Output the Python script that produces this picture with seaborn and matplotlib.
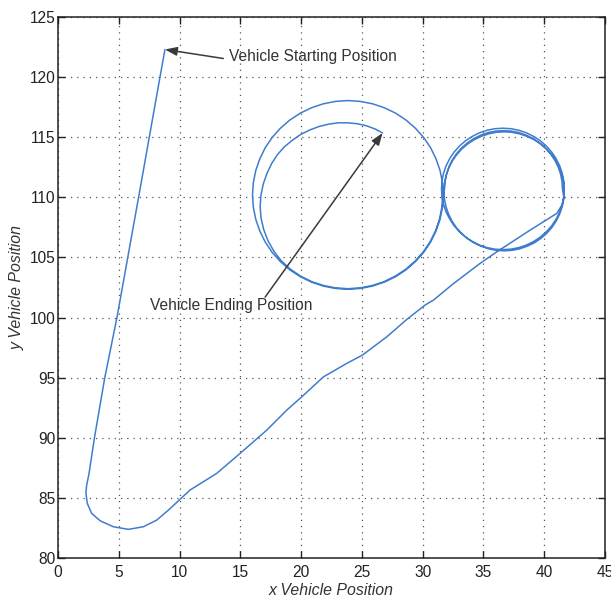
import numpy as np
import pandas as pd
import matplotlib
matplotlib.use("Agg")
import matplotlib.pyplot as plt
import seaborn as sns

# ---- vehicle trajectory, in driving order ----
# leg from the starting point down, around the bend and up to the right-hand circle
approach_x = [8.8, 8.39, 7.51, 6.63, 5.74, 4.85, 3.85, 3.0, 2.55, 2.35, 2.3, 2.41, 2.77, 3.46,
              4.55, 5.79, 7.02, 8.12, 9.08, 10.04, 10.86, 13.06, 14.98, 17.18, 18.82, 20.06,
              21.84, 23.76, 25.05, 27.05, 28.7, 30.2, 30.9, 32.5, 34.73, 36.1, 38.85, 41.04]
approach_y = [122.3, 120.0, 115.0, 110.0, 105.0, 100.0, 95.0, 90.0, 87.0, 86.0, 85.4, 84.54,
              83.71, 83.1, 82.6, 82.38, 82.6, 83.15, 83.98, 84.88, 85.65, 87.04, 88.7, 90.64,
              92.3, 93.41, 95.07, 96.19, 96.88, 98.4, 99.85, 101.04, 101.46, 102.8, 104.51,
              105.47, 107.28, 108.67]

# first pass around the right circle (counter-clockwise, one and a half turns)
right1_x = [41.48, 41.61, 41.65, 41.61, 41.48, 41.27, 40.97, 40.61, 40.17, 39.67, 39.13,
            38.53, 37.91, 37.26, 36.6, 35.94, 35.29, 34.67, 34.08, 33.53, 33.03, 32.59,
            32.23, 31.93, 31.72, 31.59, 31.55, 31.59, 31.72, 31.93, 32.23, 32.59, 33.03,
            33.53, 34.08, 34.67, 35.29, 35.94, 36.6, 37.26, 37.91, 38.53, 39.13, 39.67,
            40.17, 40.61, 40.97, 41.27, 41.48, 41.61,
            41.5, 41.46, 41.34, 41.13, 40.85, 40.5, 40.08, 39.6, 39.08, 38.51, 37.91, 37.28,
            36.65, 36.02, 35.39, 34.79, 34.23, 33.7, 33.22, 32.8, 32.45, 32.17, 31.97,
            31.84, 31.8]
right1_y = [109.39, 110.04, 110.7, 111.36, 112.01, 112.63, 113.23, 113.77, 114.27, 114.71,
            115.07, 115.37, 115.58, 115.71, 115.75, 115.71, 115.58, 115.37, 115.07, 114.71,
            114.27, 113.77, 113.23, 112.63, 112.01, 111.36, 110.7, 110.04, 109.39, 108.77,
            108.18, 107.63, 107.13, 106.69, 106.33, 106.03, 105.82, 105.69, 105.65, 105.69,
            105.82, 106.03, 106.33, 106.69, 107.13, 107.63, 108.18, 108.77, 109.39, 110.04,
            110.7, 111.33, 111.96, 112.56, 113.13, 113.65, 114.13, 114.55, 114.9, 115.18,
            115.39, 115.51, 115.55, 115.51, 115.39, 115.18, 114.9, 114.55, 114.13, 113.65,
            113.13, 112.56, 111.96, 111.33, 110.7]

# first full turn around the left circle (clockwise)
left1_x = [31.7, 31.63, 31.43, 31.1, 30.65, 30.08, 29.4, 28.63, 27.78, 26.85, 25.88, 24.87,
           23.85, 22.83, 21.82, 20.85, 19.93, 19.07, 18.3, 17.62, 17.05, 16.6, 16.27, 16.07,
           16.0, 16.07, 16.27, 16.6, 17.05, 17.62, 18.3, 19.07, 19.93, 20.85, 21.82, 22.83,
           23.85, 24.87, 25.88, 26.85, 27.78, 28.63, 29.4, 30.08, 30.65, 31.1, 31.43, 31.63,
           31.7]
left1_y = [110.2, 109.18, 108.17, 107.2, 106.28, 105.42, 104.65, 103.97, 103.4, 102.95,
           102.62, 102.42, 102.35, 102.42, 102.62, 102.95, 103.4, 103.97, 104.65, 105.42,
           106.28, 107.2, 108.17, 109.18, 110.2, 111.22, 112.23, 113.2, 114.13, 114.98,
           115.75, 116.43, 117.0, 117.45, 117.78, 117.98, 118.05, 117.98, 117.78, 117.45,
           117.0, 116.43, 115.75, 114.98, 114.13, 113.2, 112.23, 111.22, 110.2]

# second full turn around the right circle
right2_x = [31.75, 31.79, 31.92, 32.13, 32.41, 32.77, 33.2, 33.69, 34.23, 34.81, 35.42,
            36.05, 36.7, 37.35, 37.98, 38.59, 39.18, 39.71, 40.2, 40.63, 40.99, 41.27, 41.48,
            41.61, 41.65, 41.61, 41.48, 41.27, 40.99, 40.63, 40.2, 39.71, 39.18, 38.59,
            37.98, 37.35, 36.7, 36.05, 35.42, 34.81, 34.23, 33.69, 33.2, 32.77, 32.41, 32.13,
            31.92, 31.79, 31.75]
right2_y = [110.5, 109.85, 109.22, 108.61, 108.03, 107.49, 107.0, 106.57, 106.21, 105.93,
            105.72, 105.59, 105.55, 105.59, 105.72, 105.93, 106.21, 106.57, 107.0, 107.49,
            108.03, 108.61, 109.22, 109.85, 110.5, 111.15, 111.78, 112.39, 112.98, 113.51,
            114.0, 114.43, 114.79, 115.07, 115.28, 115.41, 115.45, 115.41, 115.28, 115.07,
            114.79, 114.43, 114.0, 113.51, 112.98, 112.39, 111.78, 111.15, 110.5]

# last turn on the left circle, tightening towards the end point
left2_x = [31.65, 31.58, 31.38, 31.06, 30.61, 30.04, 29.37, 28.6, 27.75, 26.84, 25.87, 24.87,
           23.85, 22.83, 21.83, 20.86, 19.95, 19.11, 18.37, 17.76, 17.27, 16.92, 16.7, 16.63,
           16.7, 16.89, 17.19, 17.57, 18.05, 18.63, 19.29, 19.98, 20.73, 21.49, 22.27, 23.06,
           23.85, 24.63, 25.39, 26.12, 26.7]
left2_y = [110.2, 109.18, 108.18, 107.22, 106.3, 105.45, 104.69, 104.01, 103.45, 102.99,
           102.67, 102.47, 102.4, 102.47, 102.67, 102.99, 103.45, 104.03, 104.72, 105.52,
           106.4, 107.33, 108.29, 109.25, 110.2, 111.12, 111.99, 112.8, 113.55, 114.21,
           114.76, 115.24, 115.61, 115.9, 116.09, 116.2, 116.2, 116.12, 115.95, 115.67,
           115.35]

x_ticks = [0, 5, 10, 15, 20, 25, 30, 35, 40, 45]
y_ticks = [80, 85, 90, 95, 100, 105, 110, 115, 120, 125]

start_label = "Vehicle Starting Position"
end_label = "Vehicle Ending Position"

path = pd.DataFrame({
    "x": approach_x + right1_x + left1_x + right2_x + left2_x,
    "y": approach_y + right1_y + left1_y + right2_y + left2_y,
})

sns.set_style("ticks")
plt.rcParams["font.family"] = ["Liberation Sans", "DejaVu Sans"]

fig = plt.figure(figsize=(6.11, 5.95), dpi=100)
ax = fig.add_axes([0.0949, 0.0622, 0.8953, 0.9092])

sns.lineplot(data=path, x="x", y="y", sort=False, estimator=None,
             color="#3f7dcc", linewidth=1.1, ax=ax,
             solid_joinstyle="round", solid_capstyle="round")

ax.set_xlim(0, 45)
ax.set_ylim(80, 125)
ax.set_xticks(x_ticks)
ax.set_yticks(y_ticks)
ax.grid(True, linestyle=(0, (1, 4)), color="#555555", linewidth=0.9)

ax.tick_params(direction="in", length=5, width=1, top=True, right=True,
               labelsize=11.2, colors="#222222")
ax.tick_params(axis="x", pad=5)
ax.tick_params(axis="y", pad=2)
for s in ax.spines.values():
    s.set_color("#222222")
    s.set_linewidth(1.1)

ax.set_xlabel("x Vehicle Position", style="italic", fontsize=11.4,
              color="#333333", labelpad=2)
ax.set_ylabel("y Vehicle Position", style="italic", fontsize=11.4,
              color="#333333", labelpad=3)

arrow_kw = dict(arrowstyle="-|>,head_length=0.6,head_width=0.22",
                color="#3a3a3a", lw=1.1, shrinkA=0, shrinkB=0, mutation_scale=12)

# start marker
ax.text(14.1, 121.75, start_label, ha="left", va="center", fontsize=11.2,
        color="#333333")
ax.annotate("", xy=(approach_x[0], approach_y[0]), xytext=(13.6, 121.55),
            arrowprops=arrow_kw)

# end marker
ax.text(7.57, 101.0, end_label, ha="left", va="center", fontsize=11.2,
        color="#333333")
ax.annotate("", xy=(left2_x[-1], left2_y[-1]), xytext=(17.04, 101.7),
            arrowprops=arrow_kw)

fig.savefig("out.png", dpi=100)
